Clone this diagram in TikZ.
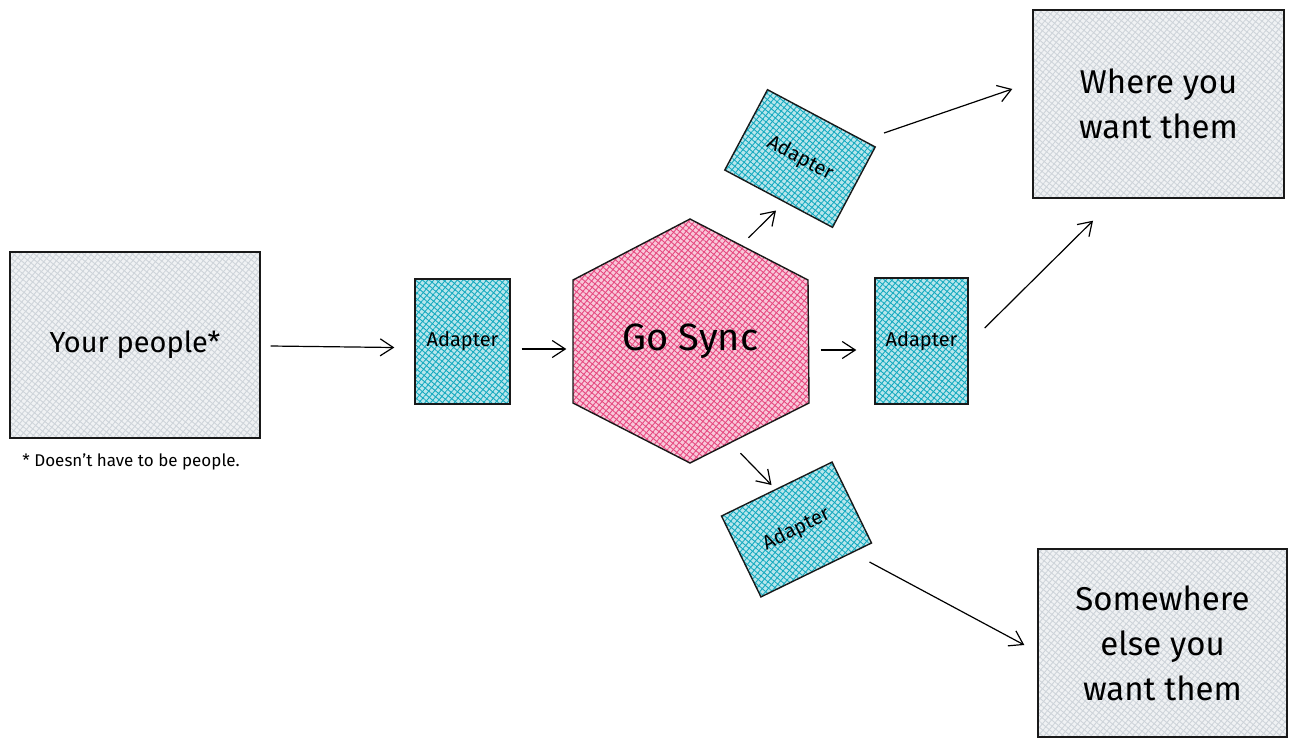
\documentclass[tikz,border=0pt]{standalone}
\usepackage{fontspec}
\setmainfont{Fira Sans}
\usetikzlibrary{arrows.meta,patterns.meta}
\definecolor{grayc}{HTML}{CED4DA}
\definecolor{cyanc}{HTML}{15AABF}
\definecolor{pinkc}{HTML}{E64980}
\tikzset{
  hatch/.style={preaction={fill=#1!30},
    preaction={pattern={Lines[angle=50,distance=4.5pt,line width=0.9pt]},pattern color=#1},
    preaction={pattern={Lines[angle=-40,distance=4.5pt,line width=0.9pt]},pattern color=#1}},
  outline/.style={draw=black!90, line width=1.4pt},
  bigbox/.style={outline, hatch=grayc, align=center, font=\fontsize{33}{45}\selectfont},
  adapter/.style={outline, hatch=cyanc, font=\fontsize{20}{22}\selectfont},
  arr/.style={-{Straight Barb[length=13pt,width=17pt]}, line width=1.2pt}
}
\begin{document}
\begin{tikzpicture}[x=1pt,y=-1pt]
\useasboundingbox (0,0) rectangle (1298,748);
% left box
\node[bigbox, minimum width=250pt, minimum height=186pt, font=\fontsize{29}{34}\selectfont] (yp) at (135,345) {Your people*};
\node[font=\fontsize{17}{20}\selectfont] (note) at (131,462) {* Doesn't have to be people.};
% adapters
\node[adapter, minimum width=95pt, minimum height=125pt] (ad1) at (462.5,341.5) {Adapter};
\node[adapter, minimum width=93pt, minimum height=126pt] (ad3) at (921.5,341) {Adapter};
\node[adapter, rotate=-28, minimum width=122pt, minimum height=91pt] (ad2) at (800,158.5) {Adapter};
\node[adapter, rotate=26, minimum width=123pt, minimum height=90pt] (ad4) at (796.5,529.5) {Adapter};
% hexagon
\draw[outline, hatch=pinkc] (690,219) -- (808,280) -- (809,403) -- (690,463) -- (573,403) -- (573,280) -- cycle;
\node[minimum width=236pt, minimum height=244pt, inner sep=0pt, font=\fontsize{38}{44}\selectfont] (sync) at (690.5,341) {Go Sync};
% targets
\node[bigbox, minimum width=251pt, minimum height=188pt] (where) at (1158.5,104) {Where you\\want them};
\node[bigbox, minimum width=249pt, minimum height=188pt] (else) at (1162.5,643) {Somewhere\\else you\\want them};
% connectors
\draw[arr] ([shift={(10,1)}]yp.east) -- ([shift={(-20,6)}]ad1.west);
\draw[arr] ([shift={(11,7.5)}]ad1.east) -- ([shift={(-6,8)}]sync.west);
\draw[arr] ([shift={(12,9)}]sync.east) -- ([shift={(-18,9)}]ad3.west);
\draw[arr] ([shift={(58,19)}]sync.north) -- ([shift={(-24,52)}]ad2.center);
\draw[arr] ([shift={(50,-10)}]sync.south) -- ([shift={(-25,-44.5)}]ad4.center);
\draw[arr] ([shift={(84,-25.5)}]ad2.center) -- ([shift={(-20,-15)}]where.west);
\draw[arr] ([shift={(16,-13)}]ad3.east) -- ([shift={(-65.5,22)}]where.south);
\draw[arr] ([shift={(73,32.5)}]ad4.center) -- ([shift={(-13,2)}]else.west);
\end{tikzpicture}
\end{document}
